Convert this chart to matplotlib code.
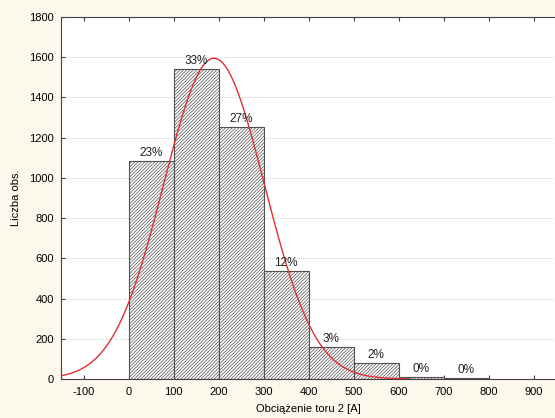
import numpy as np
import matplotlib
matplotlib.use("Agg")
import matplotlib.pyplot as plt

# Data
bin_edges = [0, 100, 200, 300, 400, 500, 600, 700, 800]
counts = [1084, 1541, 1253, 537, 159, 80, 10, 6]
pct_labels = ["23%", "33%", "27%", "12%", "3%", "2%", "0%", "0%"]
x_ticks = [-100, 0, 100, 200, 300, 400, 500, 600, 700, 800, 900]
y_ticks = [0, 200, 400, 600, 800, 1000, 1200, 1400, 1600, 1800]
fit_mean = 190
fit_sd = 112
fit_peak = 1595

plt.rcParams['font.family'] = ['Liberation Sans', 'DejaVu Sans']
plt.rcParams['axes.unicode_minus'] = False
plt.rcParams['hatch.color'] = '#8a8a8a'
plt.rcParams['hatch.linewidth'] = 0.5

fig = plt.figure(figsize=(5.55, 4.18), dpi=100, facecolor='#fcf9ec')
ax = fig.add_axes([61/555, 1 - 379/418, (556-61)/555, (379-17)/418])
ax.set_facecolor('white')

lefts = bin_edges[:-1]
widths = np.diff(bin_edges)
ax.bar(lefts, counts, width=widths, align='edge', color='white',
       edgecolor='#505050', linewidth=0.8, hatch='//////////', zorder=2)

for l, w, c, t in zip(lefts, widths, counts, pct_labels):
    ax.text(l + w/2, c + 8, t, ha='center', va='bottom', fontsize=8.5,
            color='#202020', zorder=4)

xs = np.linspace(-150, 625, 400)
ys = fit_peak * np.exp(-0.5 * ((xs - fit_mean) / fit_sd) ** 2)
ax.plot(xs, ys, color='#e03030', linewidth=1.0, zorder=3)

ax.set_xlim(-150, 950)
ax.set_ylim(0, 1800)
ax.set_xticks(x_ticks)
ax.set_yticks(y_ticks)
ax.tick_params(axis='both', direction='in', labelsize=8, length=3, color='#404040')
ax.tick_params(axis='x', top=True, pad=6)
ax.tick_params(axis='y', pad=5)
ax.yaxis.grid(True, linestyle=(0, (1, 1.5)), color='#b8b8b8', linewidth=0.6, zorder=0)
ax.set_axisbelow(True)
for s in ['left', 'bottom', 'top']:
    ax.spines[s].set_color('#404040')
    ax.spines[s].set_linewidth(0.8)
ax.spines['right'].set_visible(False)

ax.set_xlabel('Obciążenie toru 2 [A]', fontsize=8, labelpad=5)
ax.set_ylabel('Liczba obs.', fontsize=8, labelpad=6)

fig.savefig('out.png', dpi=100, facecolor=fig.get_facecolor())
